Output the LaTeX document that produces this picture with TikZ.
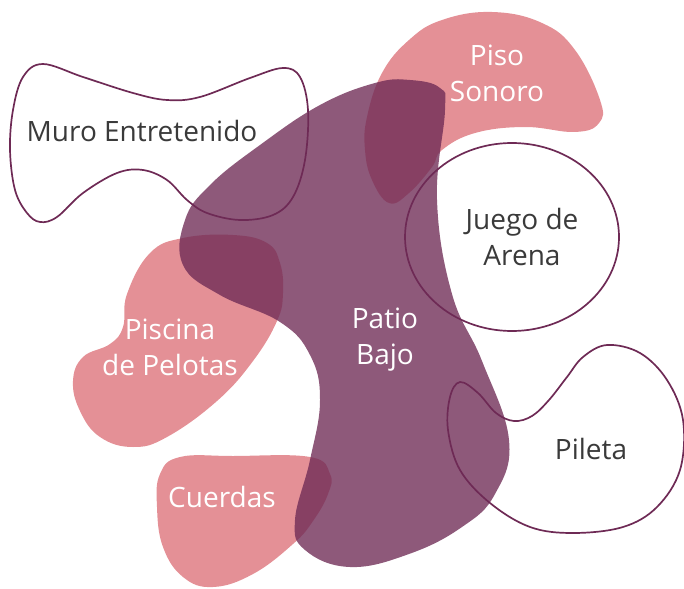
\documentclass[tikz,border=0pt]{standalone}
\usepackage{fontspec}
\setmainfont{Open Sans}
\usetikzlibrary{positioning}
\definecolor{cpink}{HTML}{E49096}
\definecolor{cplum}{HTML}{6E2A55}
\definecolor{cink}{HTML}{3A3A3A}
\tikzset{
  every picture/.style={x=1pt, y=-1pt},
  pinkblob/.style={fill=cpink, draw=none},
  plumblob/.style={fill=cplum, fill opacity=0.78, draw=none},
  rim/.style={draw=cplum, line width=1.7pt},
  label/.style={font=\fontsize{28}{36}\selectfont, align=center, inner sep=0pt},
  lighttext/.style={label, text=white},
  darktext/.style={label, text=cink},
}
\begin{document}
\begin{tikzpicture}
  \useasboundingbox (0,0) rectangle (684,588);
  % pink areas
  \fill[pinkblob] plot[smooth cycle, tension=0.7] coordinates {
    (492,12) (542,23) (575,50) (600,100) (599,123) (575,132) (525,127)
    (475,133) (442,150) (432,167) (409,193) (389,203) (372,180) (365,150)
    (367,117) (382,73) (409,40) (442,20)};
  \fill[pinkblob] plot[smooth cycle, tension=0.7] coordinates {
    (150,253) (183,238) (233,235) (267,243) (280,263) (283,293) (277,321)
    (253,361) (217,401) (167,437) (133,447) (100,437) (80,411) (73,381)
    (83,357) (110,344) (123,327) (127,294)};
  \fill[pinkblob] plot[smooth cycle, tension=0.7] coordinates {
    (180,457) (233,456) (310,457) (330,474) (328,494) (313,521) (293,544)
    (253,574) (213,587) (183,577) (163,547) (157,507) (160,474)};
  % patio
  \fill[plumblob] plot[smooth cycle, tension=0.7] coordinates {
    (410,80) (440,88) (445,110) (437,200) (452,294) (482,361) (509,440)
    (495,494) (462,527) (409,554) (350,567) (305,550) (295,520) (310,460)
    (320,400) (310,355) (280,322) (220,295) (183,265) (185,220) (210,185)
    (260,145) (320,105) (375,83)};
  % outlined areas
  \draw[rim] plot[smooth cycle, tension=0.6] coordinates {
    (43,64) (83,77) (133,93) (167,100) (200,97) (250,78) (283,68) (300,77)
    (308,110) (305,160) (293,197) (273,215) (240,220) (207,213) (187,200)
    (167,180) (143,170) (117,173) (83,193) (57,217) (40,222) (27,213)
    (15,190) (10,150) (13,110) (23,77)};
  \draw[rim] (512,237) ellipse[x radius=107, y radius=94];
  \draw[rim] plot[smooth cycle, tension=0.6] coordinates {
    (460,382) (450,397) (448,430) (460,470) (490,503) (530,527) (573,533)
    (623,527) (657,507) (680,470) (683,420) (667,380) (640,353) (607,345)
    (583,357) (567,377) (549,400) (532,416) (514,421) (496,413) (478,393)};
  % labels
  \node[darktext] (muro) at (142,131) {Muro Entretenido};
  \node[lighttext] (piso) at (497,73) {Piso\\Sonoro};
  \node[darktext] (juego) at (522,237) {Juego de\\Arena};
  \node[lighttext] (patio) at (385,340) {Patio\\Bajo};
  \node[lighttext] (piscina) at (170,347) {Piscina\\de Pelotas};
  \node[lighttext] (cuerdas) at (222,497) {Cuerdas};
  \node[darktext] (pileta) at (591,449) {Pileta};
\end{tikzpicture}
\end{document}
